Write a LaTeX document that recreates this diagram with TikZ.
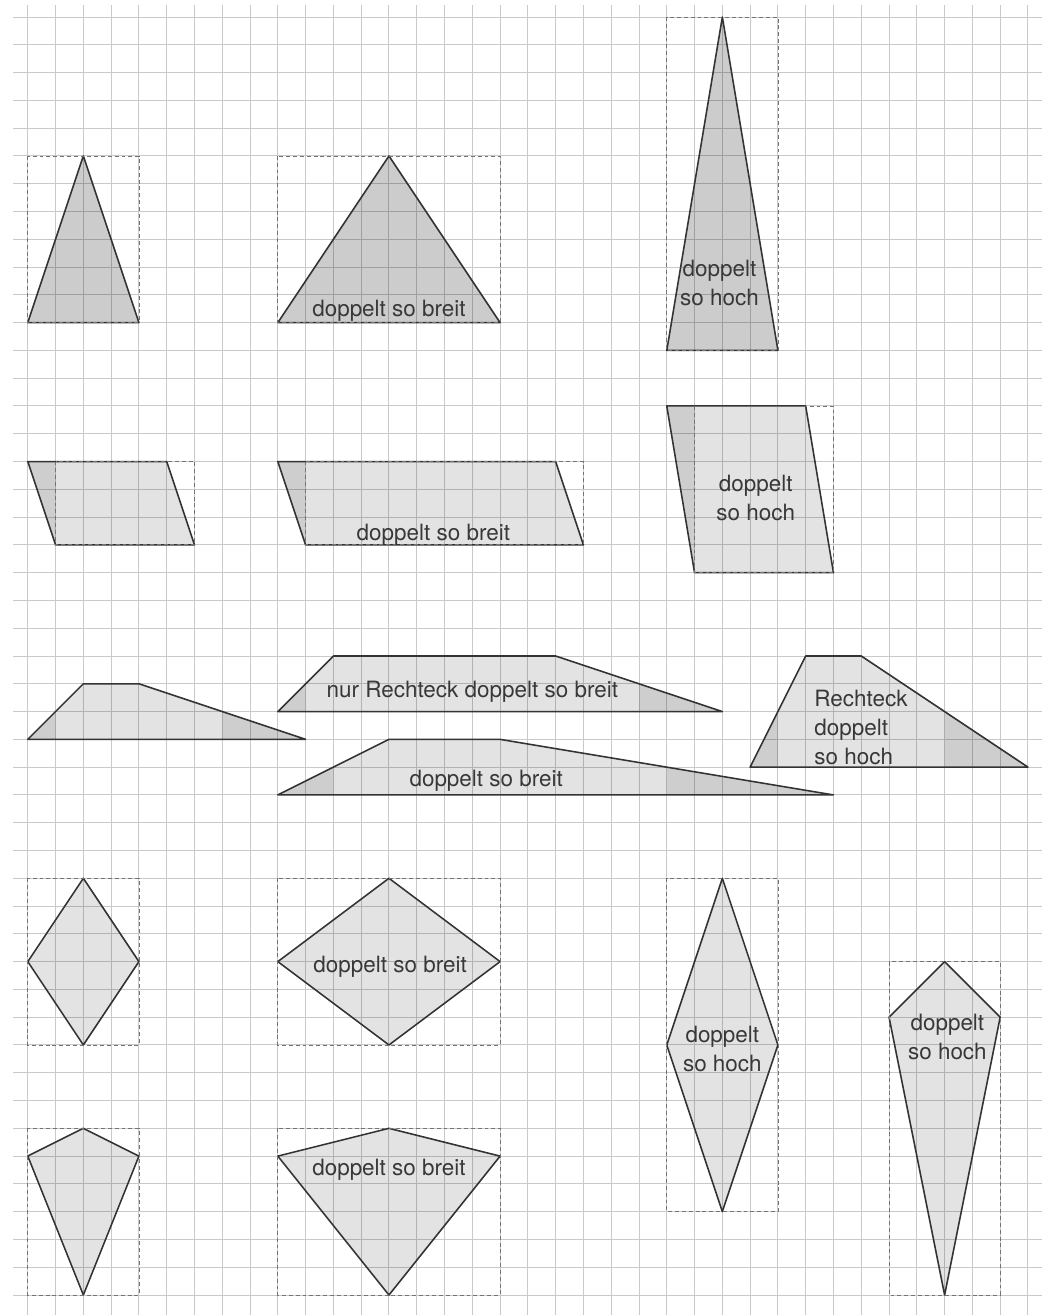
\documentclass[tikz,border=0pt]{standalone}
\usepackage{fontspec}
\setmainfont{TeX Gyre Heros}
\tikzset{%
raster/.style={draw=black!21,line width=0.5pt},
hilfsbox/.style={draw=black!55,dash pattern=on 2pt off 1.5pt,line width=0.4pt},
figur/.style={draw=black!80,line width=0.8pt,line join=round},
dunkel/.style={figur,fill=black,fill opacity=0.2},
hell/.style={figur,fill=black,fill opacity=0.11},
teilstueck/.style={fill=black,fill opacity=0.09},
beschr/.style={font=\fontsize{11.5}{14.8}\selectfont,text=black!78,align=center,inner sep=0pt}
}
\begin{document}
\begin{tikzpicture}[x=0.5cm,y=-0.5cm]
\useasboundingbox[fill=white] (0,-0.612) rectangle (37.51,46.72);
% Karopapier
\foreach \c in {1,...,37}
  \draw[raster] (\c,-0.43) -- (\c,46.72);
\foreach \r in {0,...,46}
  \draw[raster] (0.47,\r) -- (37.51,\r);

% Dreiecke
\path[dunkel] (1,11) -- (5,11) -- (3,5) -- cycle;
\path[dunkel] (10,11) -- (18,11) -- (14,5) -- cycle;
\path[dunkel] (24,12) -- (28,12) -- (26,0) -- cycle;

% Parallelogramme
\fill[teilstueck] (1,16) -- (2,16) -- (2,19) -- cycle;
\fill[teilstueck] (10,16) -- (11,16) -- (11,19) -- cycle;
\fill[teilstueck] (24,14) -- (25,14) -- (25,20) -- cycle;
\path[hell] (1,16) -- (6,16) -- (7,19) -- (2,19) -- cycle;
\path[hell] (10,16) -- (20,16) -- (21,19) -- (11,19) -- cycle;
\path[hell] (24,14) -- (29,14) -- (30,20) -- (25,20) -- cycle;

% Trapeze
\foreach \p in {{(1,26) -- (2,26) -- (2,25)},{(8,25) -- (11,26) -- (8,26)},
                {(10,25) -- (11,25) -- (11,24)},{(23,24) -- (26,25) -- (23,25)},
                {(10,28) -- (12,28) -- (12,27)},{(24,27) -- (30,28) -- (24,28)},
                {(27,27) -- (28,27) -- (28,25)},{(34,25) -- (37,27) -- (34,27)}}
  \fill[teilstueck] \p -- cycle;
\path[hell] (1,26) -- (11,26) -- (5,24) -- (3,24) -- cycle;
\path[hell] (10,25) -- (26,25) -- (20,23) -- (12,23) -- cycle;
\path[hell] (10,28) -- (30,28) -- (18,26) -- (14,26) -- cycle;
\path[hell] (27,27) -- (37,27) -- (31,23) -- (29,23) -- cycle;

% Rauten und Drachen
\path[hell] (3,31) -- (5,34) -- (3,37) -- (1,34) -- cycle;
\path[hell] (14,31) -- (18,34) -- (14,37) -- (10,34) -- cycle;
\path[hell] (26,31) -- (28,37) -- (26,43) -- (24,37) -- cycle;
\path[hell] (34,34) -- (36,36) -- (34,46) -- (32,36) -- cycle;
\path[hell] (3,40) -- (5,41) -- (3,46) -- (1,41) -- cycle;
\path[hell] (14,40) -- (18,41) -- (14,46) -- (10,41) -- cycle;

% Hilfsrechtecke
\foreach \a/\b in {{1,5}/{5,11},{10,5}/{18,11},{24,0}/{28,12},
                   {2,16}/{7,19},{11,16}/{21,19},{25,14}/{30,20},
                   {1,31}/{5,37},{10,31}/{18,37},{24,31}/{28,43},
                   {32,34}/{36,46},{1,40}/{5,46},{10,40}/{18,46}}
  \draw[hilfsbox] (\a) rectangle (\b);

% Beschriftungen
\node[beschr] (lblTb)  at (14,10.57)  {doppelt so breit};
\node[beschr] (lblTh)  at (25.9,9.56) {doppelt\\so hoch};
\node[beschr] (lblPb)  at (15.6,18.64) {doppelt so breit};
\node[beschr] (lblPh)  at (27.2,17.3) {doppelt\\so hoch};
\node[beschr] (lblTrn) at (17,24.3)   {nur Rechteck doppelt so breit};
\node[beschr] (lblTrb) at (17.5,27.5) {doppelt so breit};
\node[beschr,anchor=west,align=left] (lblTrh) at (29.3,25.56) {Rechteck\\doppelt\\so hoch};
\node[beschr] (lblRb)  at (14.04,34.2) {doppelt so breit};
\node[beschr] (lblRh)  at (26,37.13)  {doppelt\\so hoch};
\node[beschr] (lblDh)  at (34.1,36.72) {doppelt\\so hoch};
\node[beschr] (lblDb)  at (14,41.5)   {doppelt so breit};
\end{tikzpicture}
\end{document}
